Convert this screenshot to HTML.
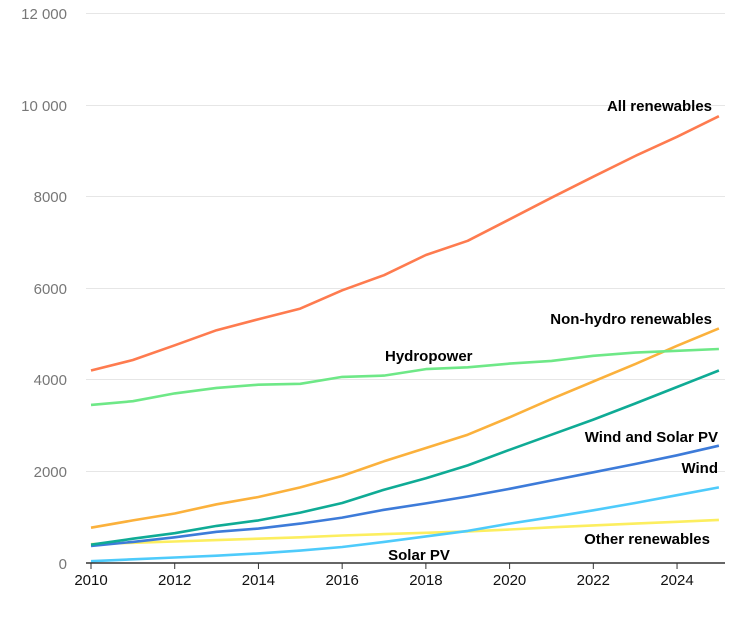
<!DOCTYPE html>
<html><head><meta charset="utf-8"><style>
html,body{margin:0;padding:0;background:#fff;}
svg{display:block;font-family:"Liberation Sans",Arial,sans-serif;}
</style></head><body>
<svg id="c" width="750" height="625" viewBox="0 0 750 625" xmlns="http://www.w3.org/2000/svg">
<g stroke="#e6e6e6" stroke-width="1">
<line x1="86" x2="725" y1="13.5" y2="13.5"/>
<line x1="86" x2="725" y1="105.5" y2="105.5"/>
<line x1="86" x2="725" y1="196.5" y2="196.5"/>
<line x1="86" x2="725" y1="288.5" y2="288.5"/>
<line x1="86" x2="725" y1="379.5" y2="379.5"/>
<line x1="86" x2="725" y1="471.5" y2="471.5"/>
</g>
<g fill="#777" font-size="15" text-anchor="end">
<text x="67" y="19">12 000</text>
<text x="67" y="111">10 000</text>
<text x="67" y="202">8000</text>
<text x="67" y="294">6000</text>
<text x="67" y="385">4000</text>
<text x="67" y="477">2000</text>
<text x="67" y="569">0</text>
</g>
<g id="lines" fill="none" stroke-width="2.6" stroke-linejoin="round"></g>
<line x1="86" x2="725" y1="563" y2="563" stroke="#333" stroke-width="1.5"/>
<g stroke="#333" stroke-width="1" id="ticks"></g>
<g fill="#111" font-size="15" text-anchor="middle" id="xl"></g>
<g fill="#000" font-size="15" font-weight="bold" text-anchor="end">
<text x="712" y="111">All renewables</text>
<text x="712" y="324">Non-hydro renewables</text>
<text x="385" y="361" text-anchor="start">Hydropower</text>
<text x="718" y="442">Wind and Solar PV</text>
<text x="718" y="473">Wind</text>
<text x="710" y="544">Other renewables</text>
<text x="419" y="560" text-anchor="middle">Solar PV</text>
</g>
</svg>
<script>
var X=function(y){return 91+(y-2010)*41.86},Y=function(v){return 563-v*0.04583};
var S=[
["#fcee5f",[410,440,470,500,530,560,600,630,660,690,730,780,820,860,900,940]],
["#4ecbfb",[40,80,120,160,210,270,350,460,580,700,860,1000,1150,1310,1480,1650]],
["#3d7bd9",[370,460,560,680,750,860,990,1160,1300,1450,1620,1800,1980,2160,2350,2560]],
["#0fab95",[400,530,650,810,930,1100,1310,1600,1850,2130,2470,2800,3130,3480,3840,4200]],
["#fbb13c",[770,930,1080,1280,1440,1650,1900,2220,2510,2800,3180,3580,3960,4340,4740,5120]],
["#6ee887",[3450,3530,3700,3820,3890,3910,4060,4090,4230,4270,4350,4410,4520,4590,4630,4670]],
["#fe7b4f",[4200,4430,4750,5080,5320,5550,5950,6280,6720,7030,7500,7970,8430,8880,9300,9750]]];
var g=document.getElementById("lines"),ns="http://www.w3.org/2000/svg";
S.forEach(function(s){var d=s[1].map(function(v,i){return (i?"L":"M")+X(2010+i).toFixed(1)+" "+Y(v).toFixed(1)}).join("");
var p=document.createElementNS(ns,"path");p.setAttribute("d",d);p.setAttribute("stroke",s[0]);g.appendChild(p);});
var t=document.getElementById("ticks"),xl=document.getElementById("xl");
for(var y=2010;y<=2024;y+=2){var l=document.createElementNS(ns,"line");l.setAttribute("x1",X(y));l.setAttribute("x2",X(y));l.setAttribute("y1",563);l.setAttribute("y2",569);t.appendChild(l);
var tx=document.createElementNS(ns,"text");tx.setAttribute("x",X(y));tx.setAttribute("y",585);tx.textContent=y;xl.appendChild(tx);}
</script>
</body></html>
